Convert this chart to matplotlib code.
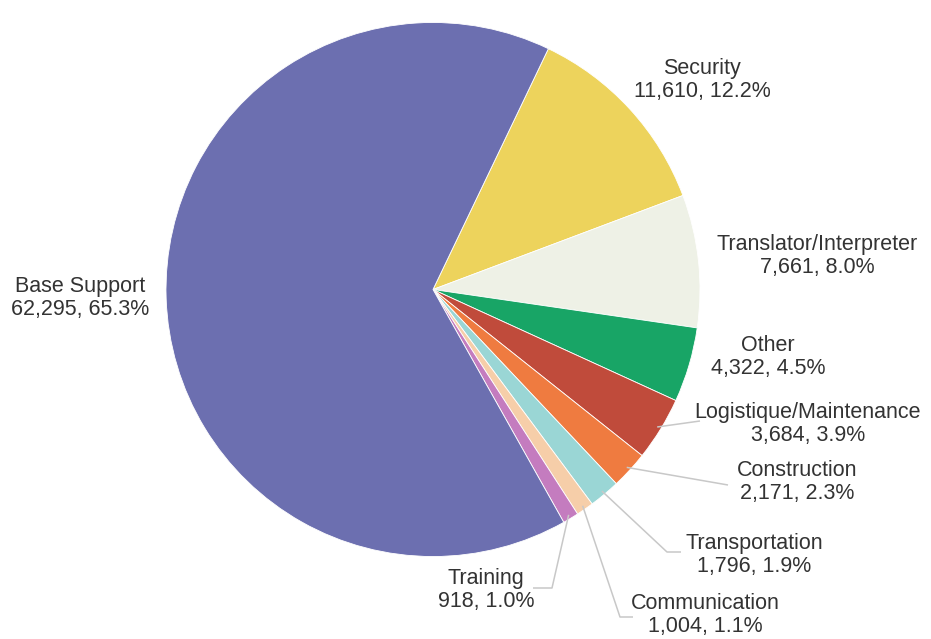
import matplotlib
matplotlib.use("Agg")
import matplotlib.pyplot as plt
import numpy as np

labels = ["Security", "Translator/Interpreter", "Other", "Logistique/Maintenance",
          "Construction", "Transportation", "Communication", "Training", "Base Support"]
values = [11610, 7661, 4322, 3684, 2171, 1796, 1004, 918, 62295]
percents = [12.2, 8.0, 4.5, 3.9, 2.3, 1.9, 1.1, 1.0, 65.3]
colors = ["#EDD35C", "#EEF1E6", "#18A566", "#C04B3B", "#EF7B40",
          "#9AD6D5", "#F6CEA9", "#C47CBF", "#6C6FB0"]

# label centres (image pixel coords, y down)
label_pos = {
    "Security": (702, 80),
    "Translator/Interpreter": (817, 256),
    "Other": (768, 357),
    "Logistique/Maintenance": (808, 424),
    "Construction": (797, 482),
    "Transportation": (754, 555),
    "Communication": (705, 615),
    "Training": (486, 590),
    "Base Support": (80, 298),
}
# leader line elbows (image coords): list of points after the wedge edge
leaders = {
    "Logistique/Maintenance": [(700, 421)],
    "Construction": [(728, 485)],
    "Transportation": [(667, 552), (681, 552)],
    "Communication": [(620, 617), (633, 617)],
    "Training": [(552, 588), (533, 588)],
}

W, H = 931, 639
cx, cy, R = 433, 289.5, 267
start = 64.4

fig = plt.figure(figsize=(W / 100, H / 100), dpi=100)
ax = fig.add_axes([0, 0, 1, 1])
ax.set_xlim(0, W)
ax.set_ylim(0, H)
ax.set_aspect("equal")
ax.axis("off")

wedges, _ = ax.pie(values, colors=colors, startangle=start, counterclock=False,
                   center=(cx, H - cy), radius=R, frame=True,
                   wedgeprops=dict(linewidth=0.6, edgecolor="white"))
ax.set_xlim(0, W)
ax.set_ylim(0, H)
ax.axis("off")

for lab, val, pct, w in zip(labels, values, percents, wedges):
    x, y = label_pos[lab]
    ax.text(x, H - y, f"{lab}\n{val:,}, {pct:.1f}%", ha="center", va="center",
            fontsize=15.5, color="#333333", family="Liberation Sans", linespacing=1.15)
    if lab in leaders:
        mid = np.deg2rad((w.theta1 + w.theta2) / 2)
        px = cx + (R - 4) * np.cos(mid)
        py = cy - (R - 4) * np.sin(mid)
        pts = [(px, py)] + leaders[lab]
        ax.plot([p[0] for p in pts], [H - p[1] for p in pts], color="#C8C8C8", lw=1.1,
                solid_capstyle="butt")

fig.savefig("out.png", dpi=100)
